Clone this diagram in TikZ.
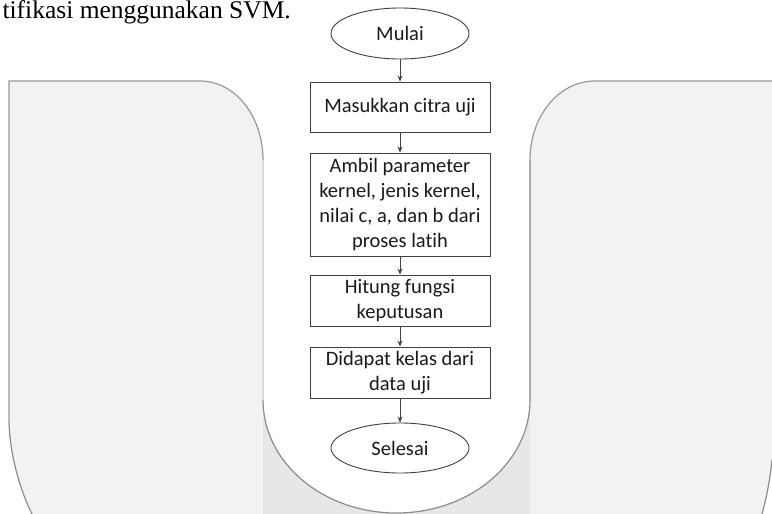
\documentclass[tikz,border=0pt]{standalone}
\usepackage{fontspec}
\setmainfont{Carlito}[Ligatures={NoCommon}]
\newfontfamily\serifA{Liberation Serif}
\usetikzlibrary{arrows.meta,shapes.geometric}
\definecolor{panel}{HTML}{F2F2F2}
\definecolor{lowgray}{HTML}{E7E7E7}
\definecolor{edge}{HTML}{999999}
\definecolor{edgedark}{HTML}{8C8C8C}
\definecolor{edgelight}{HTML}{D9D9D9}
\definecolor{edgemid}{HTML}{AAAAAA}
\definecolor{ink}{HTML}{404040}
\definecolor{txt}{HTML}{1A1A1A}
\begin{document}
\begin{tikzpicture}[x=1pt,y=-1pt,
  proc/.style={draw=ink, line width=0.9pt, minimum width=180pt, align=center,
    font=\fontsize{20.5}{25}\selectfont, text=txt, inner sep=0pt},
  term/.style={ellipse, draw=ink, line width=0.9pt, minimum width=138pt,
    minimum height=51pt, font=\fontsize{20.5}{25}\selectfont, text=txt, inner sep=0pt},
  flow/.style={-{Stealth[length=6pt,width=5pt]}, draw=ink, line width=0.9pt},
  rim/.style={line width=1.2pt}]
\useasboundingbox (0,0) rectangle (772,514);
\fill[white] (0,0) rectangle (772,514);
% left panel
\fill[panel] (9,81) -- (200,81) .. controls (235,81) and (263,116) .. (263,160)
  -- (263,514) -- (32,514) .. controls (20,490) and (10,455) .. (9,423) -- cycle;
% right panel
\fill[panel] (595,81) -- (772,81) -- (772,460) .. controls (770,480) and (766,500) .. (762,514)
  -- (530,514) -- (530,160) .. controls (530,116) and (559,81) .. (595,81) -- cycle;
% lower centre
\fill[lowgray] (263,390) rectangle (530,514);
% white U
\fill[white] (263,0) -- (263,400) .. controls (263,462.4) and (322.8,513) .. (396.5,513)
  .. controls (470.2,513) and (530,462.4) .. (530,400) -- (530,0) -- cycle;
% rims
\draw[edge, rim] (9,423) -- (9,81) -- (200,81) .. controls (235,81) and (263,116) .. (263,160);
\draw[edgelight, rim] (263,160) -- (263,400);
\draw[edgedark, rim] (9,423) .. controls (10,455) and (20,490) .. (32,514);
\draw[edgedark, rim] (263,400) .. controls (263,462.4) and (322.8,513) .. (396.5,513)
  .. controls (470.2,513) and (530,462.4) .. (530,400);
\draw[edgemid, rim] (530,160) -- (530,400);
\draw[edge, rim] (530,160) .. controls (530,116) and (559,81) .. (595,81) -- (772,81);
\draw[edgedark, rim] (772,460) .. controls (770,480) and (766,500) .. (762,514);
% caption fragment
\node[anchor=base east, font=\serifA\fontsize{25.5}{28}\selectfont, text=black, inner sep=0pt]
  (cap) at (291,18.5) {tifikasi menggunakan SVM.};
% flowchart
\node[term] (start) at (400,33.5) {Mulai};
\node[proc, minimum height=50pt] (b1) at (400,107) {Masukkan citra uji};
\node[proc, minimum height=103pt] (b2) at (400,204.5) {Ambil parameter\\kernel, jenis kernel,\\nilai c, a, dan b dari\\proses latih};
\node[proc, minimum height=51pt] (b3) at (400,300.5) {Hitung fungsi\\keputusan};
\node[proc, minimum height=51pt] (b4) at (400,372.5) {Didapat kelas dari\\data uji};
\node[term, minimum height=50pt] (stop) at (400,448) {Selesai};
\draw[flow] (start) -- (b1);
\draw[flow] (b1) -- (b2);
\draw[flow] (b2) -- (b3);
\draw[flow] (b3) -- (b4);
\draw[flow] (b4) -- (stop);
\end{tikzpicture}
\end{document}
